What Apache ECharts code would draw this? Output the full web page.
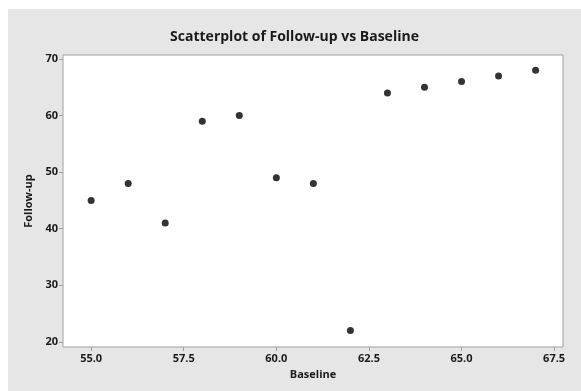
<!DOCTYPE html>
<html>
<head>
<meta charset="utf-8">
<script src="https://cdn.jsdelivr.net/npm/echarts@6/dist/echarts.min.js"></script>
<style>
html,body{margin:0;padding:0;background:#fff;}
#chart{position:absolute;left:8px;top:9px;width:573px;height:382px;background:#e6e6e6;}
</style>
</head>
<body>
<div id="chart"></div>
<script>
const baseline = [55, 56, 57, 58, 59, 60, 61, 62, 63, 64, 65, 66, 67];
const followUp = [45, 48, 41, 59, 60, 49, 48, 22, 64, 65, 66, 67, 68];
const xTicks = [55.0, 57.5, 60.0, 62.5, 65.0, 67.5];
const yTicks = [20, 30, 40, 50, 60, 70];

const chart = echarts.init(document.getElementById('chart'));
const font = '"Open Sans", "Noto Sans", sans-serif';
const axisCol = '#a0a0a0';
chart.setOption({
  animation: false,
  title: {
    text: 'Scatterplot of Follow-up vs Baseline',
    left: 'center', top: 16,
    textStyle: {fontFamily: font, fontSize: 14, fontWeight: 'bold', color: '#1a1a1a'}
  },
  grid: {left: 55, top: 46, right: 18, bottom: 44, show: true, backgroundColor: '#fff', borderColor: axisCol, borderWidth: 1},
  xAxis: {
    type: 'value', min: 54.24, max: 67.74,
    name: 'Baseline', nameLocation: 'middle', nameGap: 22,
    nameTextStyle: {fontFamily: font, fontSize: 11, fontWeight: 'bold', color: '#1a1a1a'},
    axisLine: {show: false},
    splitLine: {show: false},
    axisTick: {show: true, length: 4, lineStyle: {color: axisCol}, customValues: xTicks},
    axisLabel: {fontFamily: font, fontSize: 11, fontWeight: 'bold', color: '#1a1a1a', margin: 6,
      customValues: xTicks, formatter: v => Number(v).toFixed(1)}
  },
  yAxis: {
    type: 'value', min: 19.1, max: 70.7,
    name: 'Follow-up', nameLocation: 'middle', nameGap: 23, nameRotate: 90,
    nameTextStyle: {fontFamily: font, fontSize: 11, fontWeight: 'bold', color: '#1a1a1a'},
    axisLine: {show: false},
    splitLine: {show: false},
    axisTick: {show: true, length: 4, lineStyle: {color: axisCol}, customValues: yTicks},
    axisLabel: {fontFamily: font, fontSize: 11, fontWeight: 'bold', color: '#1a1a1a', margin: 5,
      customValues: yTicks, formatter: v => String(Math.round(v))}
  },
  series: [{
    type: 'scatter',
    data: baseline.map((b, i) => [b, followUp[i]]),
    symbol: 'circle', symbolSize: 7,
    itemStyle: {color: '#000'}
  }]
});
</script>
</body>
</html>
